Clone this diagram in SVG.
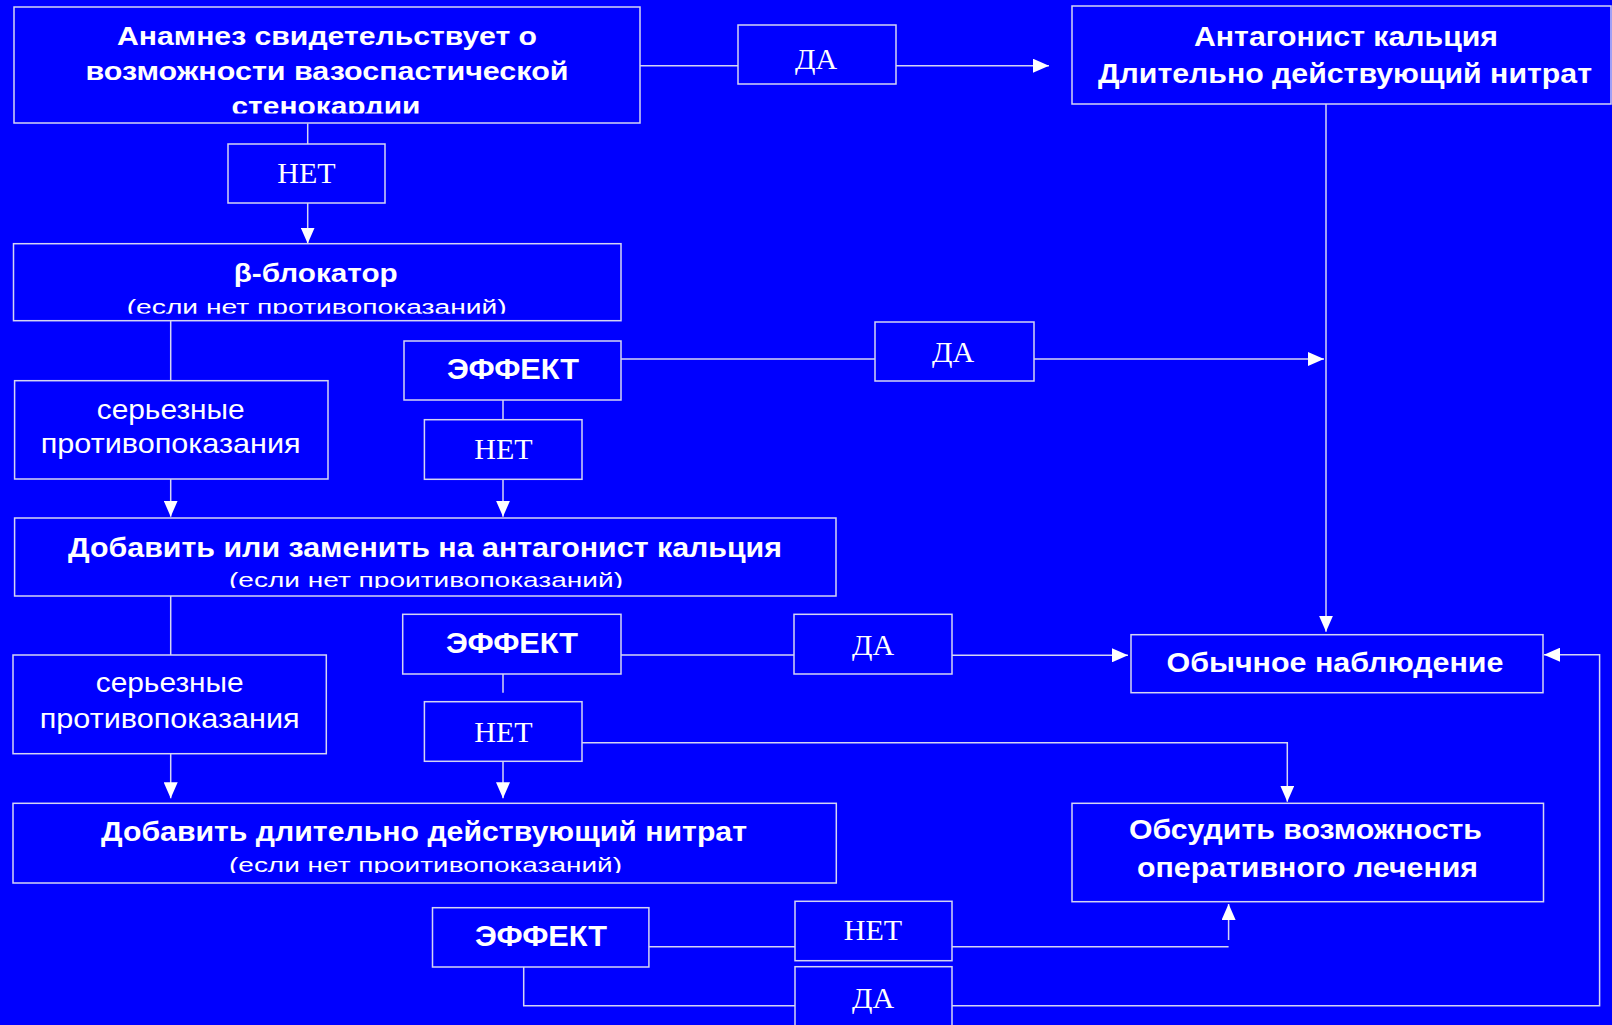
<svg xmlns="http://www.w3.org/2000/svg" width="1612" height="1025" viewBox="0 0 1612 1025">
<style>
.box{fill:#0000ff;stroke:#d4d4f4;stroke-width:1.5}
.ln{fill:none;stroke:#d4d4f4;stroke-width:1.5}
.arr{marker-end:url(#ah)}
.b{font-family:"Liberation Sans",Arial,sans-serif;font-weight:bold;fill:#fff;text-anchor:middle}
.r{font-family:"Liberation Sans",Arial,sans-serif;fill:#fff;text-anchor:middle}
.s{font-family:"Liberation Serif","Times New Roman",serif;fill:#fff;text-anchor:middle;font-size:30px}
</style>
<defs>
<marker id="ah" markerUnits="userSpaceOnUse" markerWidth="16" markerHeight="14" refX="16" refY="7" orient="auto">
<path d="M0,0 L16,7 L0,14 Z" fill="#fff"/>
</marker>
<clipPath id="cl1"><rect x="0" y="0" width="700" height="113.4"/></clipPath>
<clipPath id="cl2"><rect x="0" y="250" width="700" height="63.8"/></clipPath>
<clipPath id="cl3"><rect x="0" y="560" width="900" height="28"/></clipPath>
<clipPath id="cl4"><rect x="0" y="845" width="900" height="28"/></clipPath>
</defs>
<rect x="0" y="0" width="1612" height="1025" fill="#0000ff"/>

<g id="connectors">
<path class="ln" d="M640,65.7 H738"/>
<path class="ln arr" d="M896,65.7 H1049"/>
<path class="ln" d="M307.7,123.4 V144"/>
<path class="ln arr" d="M307.7,203 V243.5"/>
<path class="ln arr" d="M1326,104 V631.7"/>
<path class="ln" d="M170.7,321 V380.7"/>
<path class="ln" d="M621,359 H875"/>
<path class="ln arr" d="M1034,359 H1324"/>
<path class="ln" d="M503,400 V419.7"/>
<path class="ln arr" d="M503,479.3 V516.7"/>
<path class="ln arr" d="M170.7,458 V516.7"/>
<path class="ln" d="M170.7,596 V655"/>
<path class="ln" d="M621,655 H794"/>
<path class="ln arr" d="M952,655.3 H1128"/>
<path class="ln" d="M503,672 V692.7"/>
<path class="ln arr" d="M582,742.7 H1287.3 V801.7"/>
<path class="ln arr" d="M503,761.3 V798.3"/>
<path class="ln arr" d="M170.7,741.7 V798.3"/>
<path class="ln" d="M646,946.7 H795"/>
<path class="ln" d="M952,946.7 H1228.6"/>
<path class="ln arr" d="M1228.6,940 V904"/>
<path class="ln" d="M523.7,967 V1005.7 H795"/>
<path class="ln arr" d="M952,1005.7 H1599.6 V654.7 H1544"/>
</g>

<g id="anamnez">
<rect class="box" x="14" y="7" width="626" height="116"/>
<text class="b" x="327" y="45" font-size="26" textLength="420" lengthAdjust="spacingAndGlyphs">Анамнез свидетельствует о</text>
<text class="b" x="327" y="80" font-size="26" textLength="483" lengthAdjust="spacingAndGlyphs">возможности вазоспастической</text>
<text class="b" x="326" y="115" font-size="26" textLength="189" lengthAdjust="spacingAndGlyphs" clip-path="url(#cl1)">стенокардии</text>
</g>

<g id="net1">
<rect class="box" x="228" y="144" width="157" height="59"/>
<text class="s" x="306.5" y="183.3">НЕТ</text>
</g>

<g id="beta">
<rect class="box" x="13.5" y="243.7" width="607.5" height="77"/>
<text class="b" x="315.7" y="281.7" font-size="25" textLength="164" lengthAdjust="spacingAndGlyphs">β-блокатор</text>
<text class="r" x="316.7" y="314.3" font-size="20" textLength="380" lengthAdjust="spacingAndGlyphs" clip-path="url(#cl2)">(если нет противопоказаний)</text>
</g>

<g id="da1">
<rect class="box" x="738" y="25" width="158" height="59"/>
<text class="s" x="816" y="68.5">ДА</text>
</g>

<g id="antagonist">
<rect class="box" x="1072" y="6" width="539" height="98"/>
<text class="b" x="1346" y="46" font-size="28" textLength="304" lengthAdjust="spacingAndGlyphs">Антагонист кальция</text>
<text class="b" x="1345" y="83" font-size="28" textLength="494" lengthAdjust="spacingAndGlyphs">Длительно действующий нитрат</text>
</g>

<g id="effect1">
<rect class="box" x="404" y="341" width="217" height="59"/>
<text class="b" x="513" y="379.3" font-size="29" textLength="132" lengthAdjust="spacingAndGlyphs">ЭФФЕКТ</text>
</g>

<g id="da2">
<rect class="box" x="875" y="322" width="159" height="59"/>
<text class="s" x="953" y="361.5">ДА</text>
</g>

<g id="ser1">
<rect class="box" x="14.6" y="380.7" width="313.4" height="98.3"/>
<text class="r" x="170.7" y="419.3" font-size="28" textLength="148" lengthAdjust="spacingAndGlyphs">серьезные</text>
<text class="r" x="170.7" y="453.3" font-size="28" textLength="260" lengthAdjust="spacingAndGlyphs">противопоказания</text>
</g>

<g id="net2">
<rect class="box" x="424.4" y="419.7" width="157.6" height="59.6"/>
<text class="s" x="503.5" y="459.3">НЕТ</text>
</g>

<g id="dobavit1">
<rect class="box" x="14.6" y="518" width="821.4" height="78"/>
<text class="b" x="425" y="557.3" font-size="28" textLength="714" lengthAdjust="spacingAndGlyphs">Добавить или заменить на антагонист кальция</text>
<text class="r" x="426" y="587" font-size="21" textLength="394" lengthAdjust="spacingAndGlyphs" clip-path="url(#cl3)">(если нет проитивопоказаний)</text>
</g>

<g id="effect2">
<rect class="box" x="402.7" y="614.3" width="218.3" height="59.7"/>
<text class="b" x="512" y="653.3" font-size="29" textLength="132" lengthAdjust="spacingAndGlyphs">ЭФФЕКТ</text>
</g>

<g id="da3">
<rect class="box" x="794" y="614.3" width="158" height="59.7"/>
<text class="s" x="873" y="655">ДА</text>
</g>

<g id="obychnoe">
<rect class="box" x="1131" y="634.7" width="412" height="58"/>
<text class="b" x="1335" y="671.7" font-size="28" textLength="337" lengthAdjust="spacingAndGlyphs">Обычное наблюдение</text>
</g>

<g id="ser2">
<rect class="box" x="13" y="655" width="313.3" height="98.7"/>
<text class="r" x="169.7" y="691.7" font-size="28" textLength="148" lengthAdjust="spacingAndGlyphs">серьезные</text>
<text class="r" x="169.7" y="728.3" font-size="28" textLength="260" lengthAdjust="spacingAndGlyphs">противопоказания</text>
</g>

<g id="net3">
<rect class="box" x="424.4" y="701.7" width="157.6" height="59.6"/>
<text class="s" x="503.5" y="741.7">НЕТ</text>
</g>

<g id="dobavit2">
<rect class="box" x="13" y="803.3" width="823.3" height="79.7"/>
<text class="b" x="424" y="840.7" font-size="28" textLength="646" lengthAdjust="spacingAndGlyphs">Добавить длительно действующий нитрат</text>
<text class="r" x="425.5" y="872" font-size="21" textLength="393" lengthAdjust="spacingAndGlyphs" clip-path="url(#cl4)">(если нет проитивопоказаний)</text>
</g>

<g id="obsudit">
<rect class="box" x="1072" y="803.3" width="471.5" height="98.4"/>
<text class="b" x="1305.4" y="839.3" font-size="27" textLength="353" lengthAdjust="spacingAndGlyphs">Обсудить возможность</text>
<text class="b" x="1307.5" y="876.7" font-size="27" textLength="341" lengthAdjust="spacingAndGlyphs">оперативного лечения</text>
</g>

<g id="effect3">
<rect class="box" x="432.5" y="907.7" width="216.4" height="59.3"/>
<text class="b" x="541" y="946" font-size="29" textLength="132" lengthAdjust="spacingAndGlyphs">ЭФФЕКТ</text>
</g>

<g id="net4">
<rect class="box" x="795" y="901.3" width="157" height="59.4"/>
<text class="s" x="873" y="940">НЕТ</text>
</g>

<g id="da4">
<rect class="box" x="795" y="966.7" width="157" height="65"/>
<text class="s" x="873" y="1008.3">ДА</text>
</g>
</svg>
